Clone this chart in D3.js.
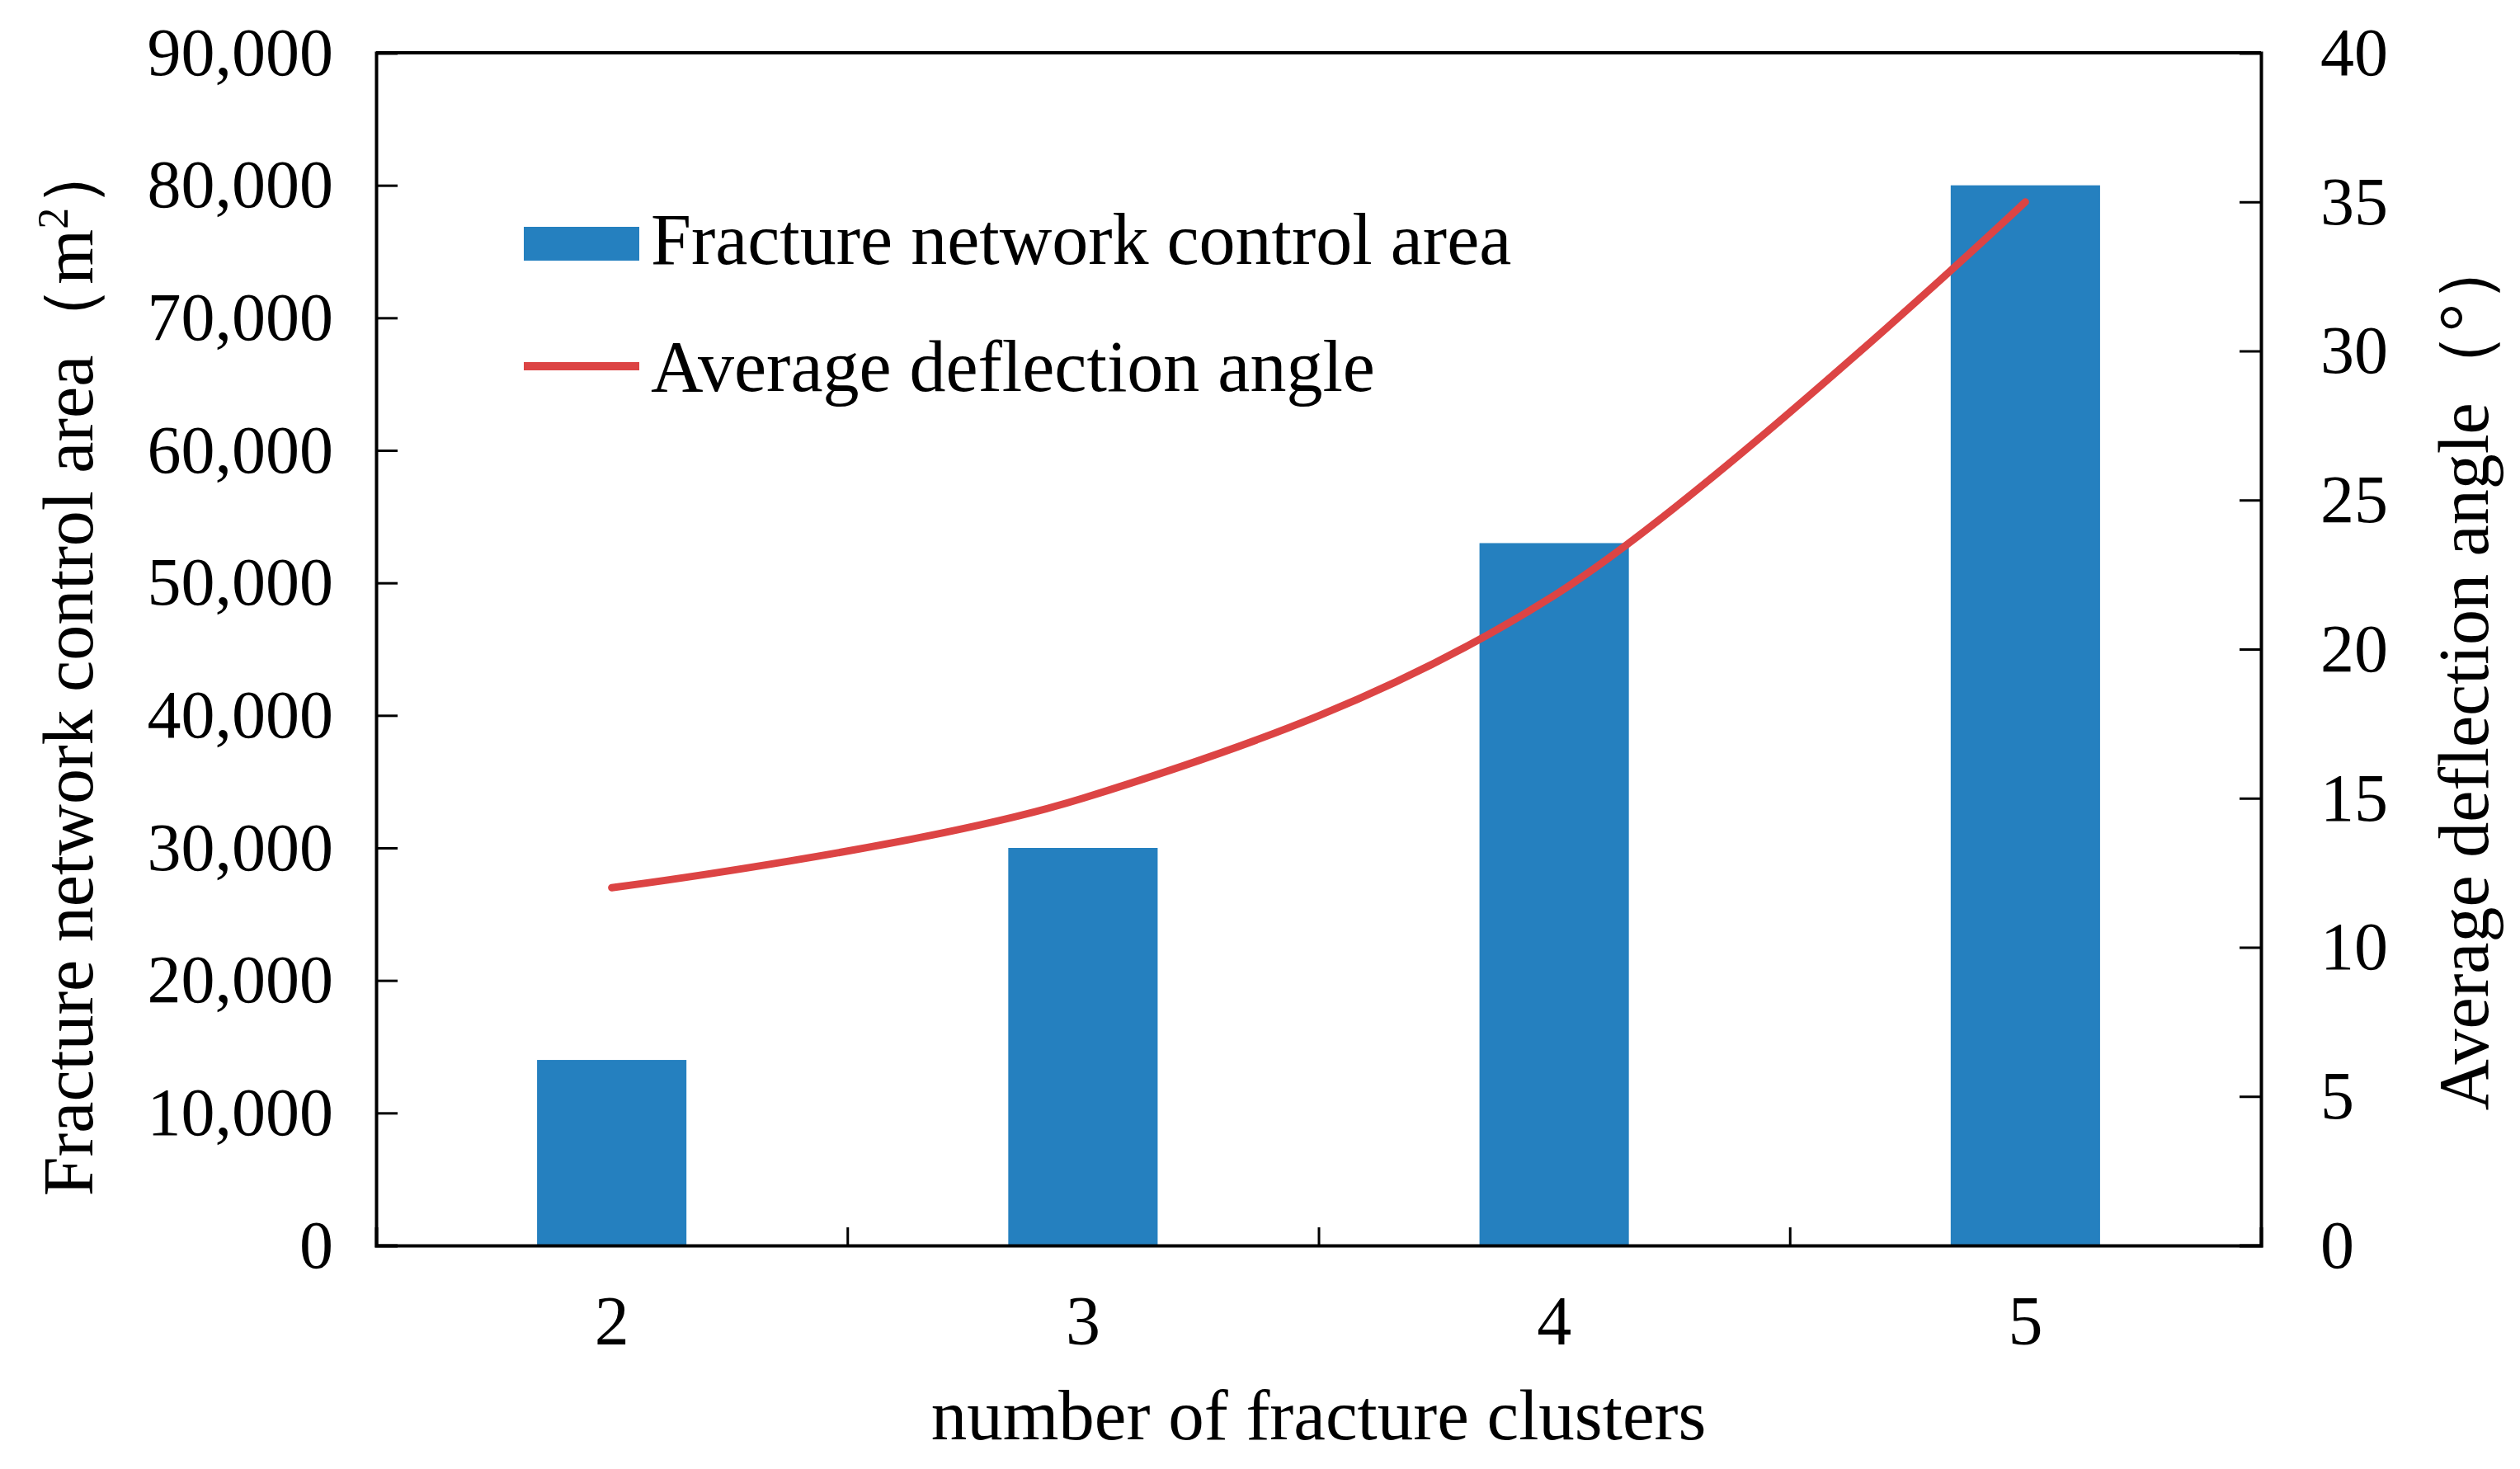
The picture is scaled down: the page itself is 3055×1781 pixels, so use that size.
<!DOCTYPE html>
<html><head><meta charset="utf-8">
<script src="https://cdn.jsdelivr.net/npm/d3@7"></script>
<style>body{margin:0;background:#fff}</style>
</head><body>
<script>
const categories = ["2","3","4","5"];
const areaValues = [14000, 30000, 53000, 80000];
const angleValues = [12, 15, 21.8, 35];
const leftTicks = [0,10000,20000,30000,40000,50000,60000,70000,80000,90000];
const rightTicks = [0,5,10,15,20,25,30,35,40];
const seriesNames = ["Fracture network control area","Average deflection angle"];

const W=3055,H=1781;
const m={l:456,r:W-2741,t:64,b:H-1510};
const pw=W-m.l-m.r, ph=H-m.t-m.b;
const font="'Liberation Serif','Times New Roman',serif";
const svg=d3.select("body").append("svg").attr("width",W).attr("height",H);
const g=svg.append("g").attr("transform",`translate(${m.l},${m.t})`);

const x=d3.scaleBand().domain(categories).range([0,pw]).paddingInner(0.683).paddingOuter(0.3415);
const yL=d3.scaleLinear().domain([0,90000]).range([ph,0]);
const yR=d3.scaleLinear().domain([0,40]).range([ph,0]);

// bars
g.selectAll("rect.bar").data(areaValues).join("rect").attr("class","bar")
 .attr("x",(d,i)=>x(categories[i])).attr("width",x.bandwidth())
 .attr("y",d=>yL(d)).attr("height",d=>ph-yL(d)).attr("fill","#2580bf");

// line
const line=d3.line().x((d,i)=>x(categories[i])+x.bandwidth()/2).y(d=>yR(d)).curve(d3.curveCatmullRom.alpha(0));
g.append("path").datum(angleValues).attr("d",line).attr("fill","none")
 .attr("stroke","#dc4444").attr("stroke-width",9).attr("stroke-linecap","round");

const fmt=d3.format(",");
// left axis
const aL=g.append("g").call(d3.axisLeft(yL).tickValues(leftTicks).tickFormat(fmt).tickSize(-26).tickPadding(52));
// right axis
const aR=g.append("g").attr("transform",`translate(${pw},0)`).call(d3.axisRight(yR).tickValues(rightTicks).tickSize(-26).tickPadding(72));
// bottom axis: ticks at band boundaries
const xb=d3.scaleLinear().domain([0,4]).range([0,pw]);
const aB=g.append("g").attr("transform",`translate(0,${ph})`).call(d3.axisBottom(xb).tickValues([0,1,2,3,4]).tickSize(-22).tickFormat(""));
const aBL=g.append("g").attr("transform",`translate(0,${ph})`).call(d3.axisBottom(x).tickSize(0).tickPadding(60));
aBL.select(".domain").remove();
[aL,aR,aB].forEach(a=>{a.select(".domain").attr("stroke","#000").attr("stroke-width",4);a.selectAll(".tick line").attr("stroke","#000").attr("stroke-width",3);});
svg.selectAll(".tick text").attr("font-family",font).attr("font-size",82).attr("fill","#000");
aBL.selectAll(".tick text").attr("font-size",84);
// top frame
g.append("line").attr("x1",0).attr("x2",pw).attr("y1",0).attr("y2",0).attr("stroke","#000").attr("stroke-width",4);

// axis titles
svg.append("text").attr("x",m.l+pw/2).attr("y",1745).attr("text-anchor","middle")
 .attr("font-family",font).attr("font-size",87).text("number of fracture clusters");
const lt=svg.append("text").attr("transform","translate(112,808) rotate(-90)").attr("text-anchor","middle")
 .attr("font-family",font).attr("font-size",86);
lt.append("tspan").text("Fracture network control area（m");
lt.append("tspan").attr("font-size",52).attr("dy",-30).text("2");
lt.append("tspan").attr("dy",30).text("）");
svg.append("text").attr("transform","translate(3016,814) rotate(-90)").attr("text-anchor","middle")
 .attr("font-family",font).attr("font-size",86).text("Average deflection angle（°）");

// legend
const lg=svg.append("g");
lg.append("rect").attr("x",635).attr("y",275).attr("width",140).attr("height",41).attr("fill","#2580bf");
lg.append("line").attr("x1",635).attr("x2",775).attr("y1",444).attr("y2",444).attr("stroke","#dc4444").attr("stroke-width",10);
lg.append("text").attr("x",789).attr("y",320).attr("font-family",font).attr("font-size",88).text(seriesNames[0]);
lg.append("text").attr("x",789).attr("y",474).attr("font-family",font).attr("font-size",88).text(seriesNames[1]);
</script>
</body></html>
